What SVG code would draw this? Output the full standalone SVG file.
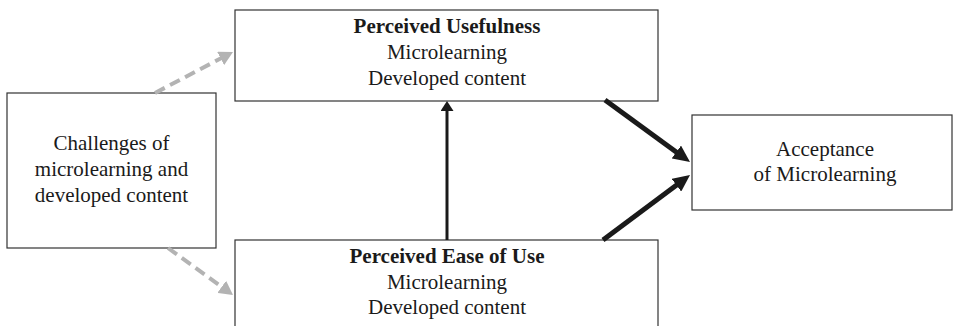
<svg xmlns="http://www.w3.org/2000/svg" width="953" height="326" viewBox="0 0 953 326">
<style>
.box{fill:#fff;stroke:#333;stroke-width:1.2}
text{font-family:"Liberation Serif","Times New Roman",serif;font-size:21px;fill:#1a1a1a;text-anchor:middle}
.b{font-weight:bold}
.thick{stroke:#1a1a1a;stroke-width:5;fill:none}
.mid{stroke:#1a1a1a;stroke-width:3;fill:none}
.dash{stroke:#b3b3b3;stroke-width:4;fill:none;stroke-dasharray:11 6}
</style>
<defs>
<marker id="ah" markerUnits="userSpaceOnUse" viewBox="0 0 17 16" refX="2" refY="8" markerWidth="17" markerHeight="16" orient="auto"><path d="M0,0 L17,8 L0,16 z" fill="#1a1a1a"/></marker>
<marker id="av" markerUnits="userSpaceOnUse" viewBox="0 0 10 13" refX="1" refY="6.5" markerWidth="10" markerHeight="13" orient="auto"><path d="M0,0 L10,6.5 L0,13 z" fill="#1a1a1a"/></marker>
<marker id="ag" markerUnits="userSpaceOnUse" viewBox="0 0 14 15" refX="1" refY="7.5" markerWidth="14" markerHeight="15" orient="auto"><path d="M0,0 L14,7.5 L0,15 z" fill="#b3b3b3"/></marker>
</defs>
<g id="pu">
<rect class="box" x="235" y="10" width="423" height="91"/>
<text class="b" x="447" y="33">Perceived Usefulness</text>
<text x="447" y="59">Microlearning</text>
<text x="447" y="85">Developed content</text>
</g>
<g id="ch">
<rect class="box" x="7" y="93" width="209" height="155"/>
<text x="111.5" y="150">Challenges of</text>
<text x="111.5" y="176">microlearning and</text>
<text x="111.5" y="202">developed content</text>
</g>
<g id="peou">
<rect class="box" x="235" y="240" width="423" height="110"/>
<text class="b" x="447" y="263">Perceived Ease of Use</text>
<text x="447" y="289">Microlearning</text>
<text x="447" y="314">Developed content</text>
</g>
<g id="acc">
<rect class="box" x="692" y="115" width="260" height="95"/>
<text x="825" y="156">Acceptance</text>
<text x="825" y="181">of Microlearning</text>
</g>
<g id="connectors">
<line class="dash" x1="155" y1="93" x2="221.5" y2="58" marker-end="url(#ag)"/>
<line class="dash" x1="168" y1="248" x2="222.5" y2="287.4" marker-end="url(#ag)"/>
<line class="mid" x1="447" y1="240" x2="447" y2="110" marker-end="url(#av)"/>
<line class="thick" x1="605" y1="100" x2="677.9" y2="153.2" marker-end="url(#ah)"/>
<line class="thick" x1="603" y1="240" x2="678" y2="184" marker-end="url(#ah)"/>
</g>
</svg>
